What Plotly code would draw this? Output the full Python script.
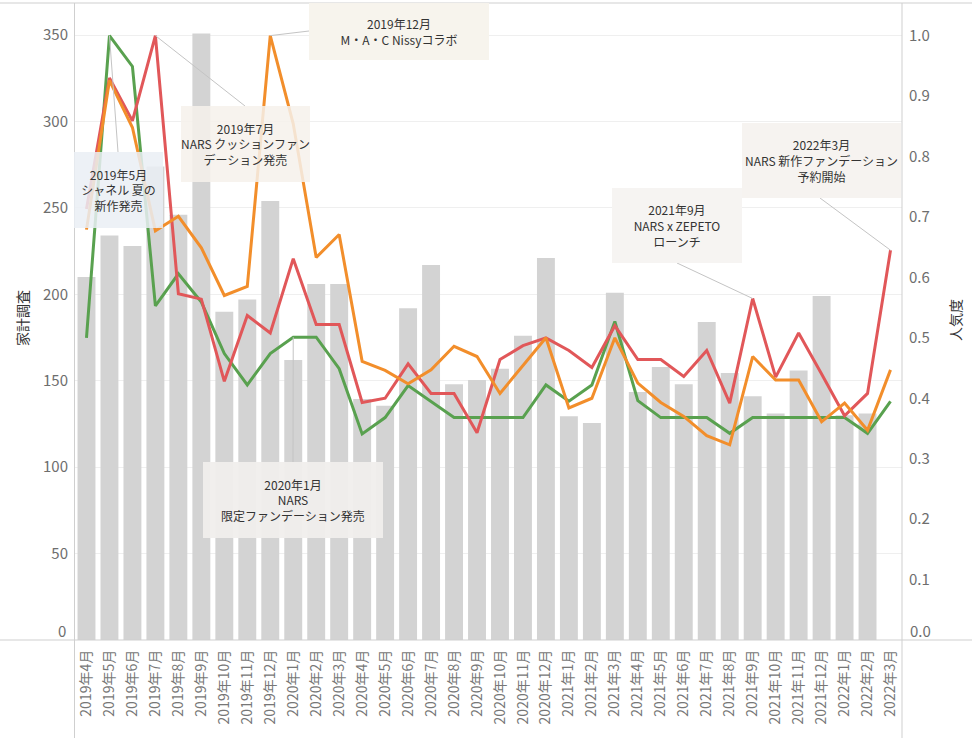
import plotly.graph_objects as go

months = ["2019年4月", "2019年5月", "2019年6月", "2019年7月", "2019年8月", "2019年9月",
          "2019年10月", "2019年11月", "2019年12月", "2020年1月", "2020年2月", "2020年3月",
          "2020年4月", "2020年5月", "2020年6月", "2020年7月", "2020年8月", "2020年9月",
          "2020年10月", "2020年11月", "2020年12月", "2021年1月", "2021年2月", "2021年3月",
          "2021年4月", "2021年5月", "2021年6月", "2021年7月", "2021年8月", "2021年9月",
          "2021年10月", "2021年11月", "2021年12月", "2022年1月", "2022年2月", "2022年3月"]

household = [210, 234, 228, 274, 246, 351, 190, 197, 254, 162, 206, 206,
             139.5, 135.5, 192, 217, 148, 150.5, 157, 176, 221, 129.5, 125.5, 201,
             143.5, 158, 148, 184, 154.5, 141, 131, 156, 199, 130, 131, None]

green = [0.50, 1.00, 0.949, 0.553, 0.606, 0.559, 0.474, 0.422, 0.474, 0.501, 0.501, 0.449,
         0.341, 0.368, 0.421, 0.395, 0.368, 0.368, 0.368, 0.368, 0.422, 0.395, 0.422, 0.527,
         0.396, 0.368, 0.368, 0.368, 0.342, 0.368, 0.368, 0.368, 0.368, 0.368, 0.342, 0.395]

orange = [0.679, 0.926, 0.848, 0.677, 0.701, 0.649, 0.570, 0.585, 1.00, 0.854, 0.633, 0.671,
          0.461, 0.446, 0.424, 0.447, 0.486, 0.469, 0.408, 0.454, 0.500, 0.384, 0.400, 0.500,
          0.425, 0.393, 0.370, 0.338, 0.323, 0.469, 0.430, 0.430, 0.361, 0.392, 0.347, 0.447]

red = [0.713, 0.930, 0.859, 1.00, 0.573, 0.564, 0.428, 0.537, 0.508, 0.631, 0.522, 0.522,
       0.393, 0.400, 0.457, 0.408, 0.408, 0.343, 0.464, 0.487, 0.500, 0.479, 0.451, 0.520,
       0.464, 0.464, 0.436, 0.479, 0.392, 0.565, 0.435, 0.508, 0.440, 0.371, 0.408, 0.645]

left_ticks = [0, 50, 100, 150, 200, 250, 300, 350]
right_ticks = [0.0, 0.1, 0.2, 0.3, 0.4, 0.5, 0.6, 0.7, 0.8, 0.9, 1.0]

FONT = "Noto Sans CJK JP"

# layout geometry (pixels)
WIDTH, HEIGHT = 979, 738
L, R, T, B = 75, 902, 3, 640
PW, PH = R - L, B - T
Y1_MAX = 368.6
Y2_MAX = 1.054
N = len(months)
idx = list(range(N))


def px_x(px):
    return (px - L) / (PW / N) - 0.5


def px_y2(py):
    return (B - py) / PH * Y2_MAX


def paper_x(px):
    return (px - L) / PW


def paper_y(py):
    return (B - py) / PH


fig = go.Figure()
fig.add_trace(go.Bar(x=idx, y=household, marker_color="#D3D3D3", marker_line_width=0,
                     name="家計調査", yaxis="y"))
fig.add_trace(go.Scatter(x=idx, y=green, mode="lines", line=dict(color="#59A14F", width=3),
                         name="green", yaxis="y2"))
fig.add_trace(go.Scatter(x=idx, y=red, mode="lines", line=dict(color="#E15759", width=3),
                         name="red", yaxis="y2"))
fig.add_trace(go.Scatter(x=idx, y=orange, mode="lines", line=dict(color="#F28E2B", width=3),
                         name="orange", yaxis="y2"))

# annotation boxes: (text, left, top, right, bottom, color)
boxes = [
    ("2019年5月<br>シャネル 夏の<br>新作発売", 74, 152, 163, 228, "rgba(234,239,244,0.85)"),
    ("2019年7月<br>NARS クッションファン<br>デーション発売", 181, 106, 310, 182, "rgba(246,241,235,0.85)"),
    ("2019年12月<br>M・A・C Nissyコラボ", 309, 3, 489, 60, "rgba(247,243,236,0.95)"),
    ("2020年1月<br>NARS<br>限定ファンデーション発売", 203, 462, 383, 538, "rgba(240,238,236,0.95)"),
    ("2021年9月<br>NARS x ZEPETO<br>ローンチ", 612, 188, 742, 263, "rgba(245,243,241,0.95)"),
    ("2022年3月<br>NARS 新作ファンデーション<br>予約開始", 742, 123, 901, 198, "rgba(245,242,239,0.95)"),
]

annotations = []
for text, x0, y0, x1, y1, col in boxes:
    annotations.append(dict(
        text=text, xref="paper", yref="paper",
        x=paper_x((x0 + x1) / 2), y=paper_y((y0 + y1) / 2),
        xanchor="center", yanchor="middle", showarrow=False,
        width=x1 - x0, height=y1 - y0, bgcolor=col, borderpad=0, borderwidth=0,
        align="center", font=dict(family=FONT, size=12, color="#333333")))

annotations.append(dict(text="家計調査", xref="paper", yref="paper",
                        x=paper_x(22), y=paper_y(318), textangle=-90, showarrow=False,
                        xanchor="center", yanchor="middle",
                        font=dict(family=FONT, size=14, color="#333333")))
annotations.append(dict(text="人気度", xref="paper", yref="paper",
                        x=paper_x(955), y=paper_y(320), textangle=-90, showarrow=False,
                        xanchor="center", yanchor="middle",
                        font=dict(family=FONT, size=14, color="#333333")))

# zero labels sit slightly above the baseline, as in the original
tick_font = dict(family=FONT, size=15, color="#6E6E6E")
annotations.append(dict(text=str(left_ticks[0]), xref="paper", yref="paper",
                        x=paper_x(68), y=paper_y(630), xanchor="right", yanchor="middle",
                        showarrow=False, font=tick_font))
annotations.append(dict(text=f"{right_ticks[0]:.1f}", xref="paper", yref="paper",
                        x=paper_x(908), y=paper_y(630), xanchor="left", yanchor="middle",
                        showarrow=False, font=tick_font))

# connectors: (series, index, box anchor px)
connectors = [
    (green, 1, (118, 152)),
    (red, 3, (245, 106)),
    (orange, 8, (309, 31)),
    (green, 9, (293, 462)),
    (red, 29, (677, 263)),
    (red, 35, (820, 198)),
]
shapes = []
for series, i, (ax, ay) in connectors:
    shapes.append(dict(type="line", xref="x", yref="y2", x0=i, y0=series[i],
                       x1=px_x(ax), y1=px_y2(ay), layer="above",
                       line=dict(color="#C4C4C4", width=1)))

border = "#CFCFCF"
shapes += [
    dict(type="line", xref="paper", yref="paper", x0=paper_x(0), x1=paper_x(972),
         y0=1, y1=1, line=dict(color=border, width=1)),
    dict(type="line", xref="paper", yref="paper", x0=paper_x(0), x1=paper_x(972),
         y0=0, y1=0, line=dict(color=border, width=1)),
    dict(type="line", xref="paper", yref="paper", x0=paper_x(74.5), x1=paper_x(74.5),
         y0=paper_y(HEIGHT), y1=1, line=dict(color=border, width=1)),
    dict(type="line", xref="paper", yref="paper", x0=paper_x(902), x1=paper_x(902),
         y0=paper_y(HEIGHT), y1=1, line=dict(color=border, width=1)),
]

fig.update_layout(
    width=WIDTH, height=HEIGHT,
    margin=dict(l=L, r=WIDTH - R, t=T, b=HEIGHT - B, autoexpand=False),
    paper_bgcolor="white", plot_bgcolor="white",
    showlegend=False, bargap=0.22,
    font=dict(family=FONT),
    xaxis=dict(range=[-0.5, N - 0.5], tickmode="array", tickvals=idx, ticktext=months,
               tickangle=-90, showgrid=False, zeroline=False, showline=False,
               ticks="", ticklabelstandoff=6,
               tickfont=dict(family=FONT, size=14, color="#777777")),
    yaxis=dict(range=[0, Y1_MAX], tickmode="array", tickvals=left_ticks,
               ticktext=[""] + [str(v) for v in left_ticks[1:]],
               showgrid=True, gridcolor="#EFEFEF", gridwidth=1, zeroline=False,
               showline=False, ticks="", ticklabelstandoff=6,
               tickfont=tick_font),
    yaxis2=dict(range=[0, Y2_MAX], tickmode="array", tickvals=right_ticks,
                ticktext=[""] + [f"{v:.1f}" for v in right_ticks[1:]],
                overlaying="y", side="right", showgrid=False, zeroline=False,
                showline=False, ticks="", ticklabelstandoff=6,
                tickfont=tick_font),
    annotations=annotations,
    shapes=shapes,
)

fig.write_html("out.html", config={"displayModeBar": False})

# remove the default page margin so the figure sits at the window origin
with open("out.html", "r", encoding="utf-8") as f:
    html = f.read()
html = html.replace("<head>", "<head><style>html,body{margin:0;padding:0;overflow:hidden;}</style>", 1)
with open("out.html", "w", encoding="utf-8") as f:
    f.write(html)
